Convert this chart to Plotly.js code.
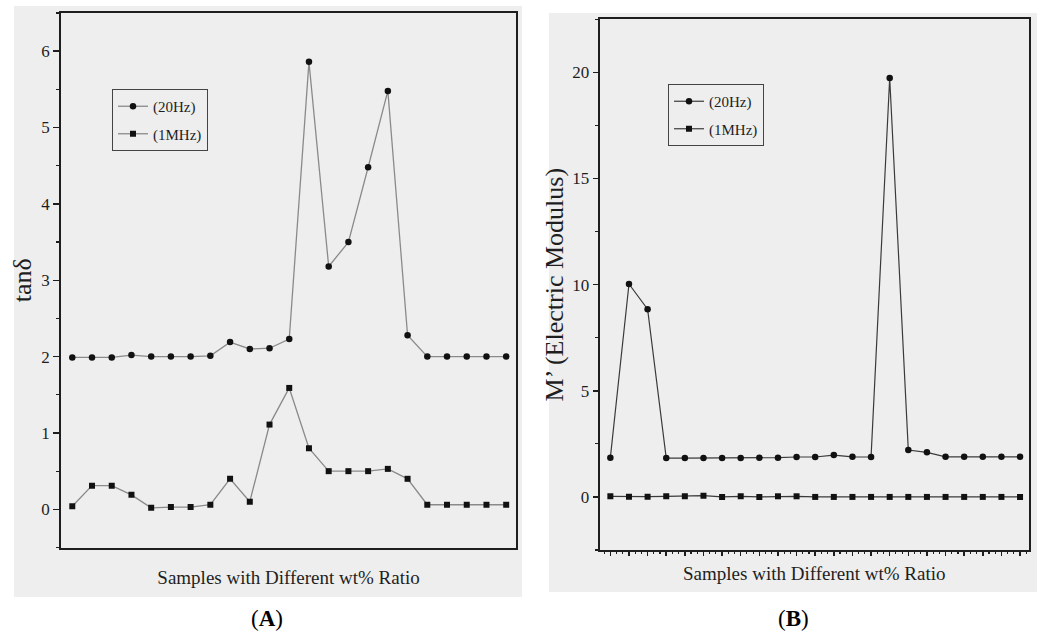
<!DOCTYPE html>
<html>
<head>
<meta charset="utf-8">
<script src="https://cdn.plot.ly/plotly-3.0.1.min.js"></script>
<style>
html,body{margin:0;padding:0;background:#ffffff;}
#chart{width:1040px;height:634px;}
</style>
</head>
<body>
<div id="chart"></div>
<script>
// ---- data ----
const samples = [1,2,3,4,5,6,7,8,9,10,11,12,13,14,15,16,17,18,19,20,21,22,23];
const tanD20Hz = [1.99,1.99,1.99,2.02,2.00,2.00,2.00,2.01,2.19,2.10,2.11,2.23,5.86,3.18,3.50,4.48,5.48,2.28,2.00,2.00,2.00,2.00,2.00];
const tanD1MHz = [0.04,0.31,0.31,0.19,0.02,0.03,0.03,0.06,0.40,0.10,1.11,1.59,0.80,0.50,0.50,0.50,0.53,0.40,0.06,0.06,0.06,0.06,0.06];
const modulus20Hz = [1.85,10.03,8.84,1.83,1.83,1.83,1.83,1.83,1.85,1.85,1.88,1.88,1.97,1.89,1.88,19.73,2.21,2.10,1.89,1.89,1.89,1.89,1.89];
const modulus1MHz = [0.03,0.01,0.01,0.03,0.03,0.06,0.00,0.03,0.00,0.03,0.03,0.00,0.00,0.00,0.00,0.00,0.00,0.00,0.00,0.00,0.00,0.00,0.00];
const seriesNames = ['(20Hz)','(1MHz)'];
const xTitle = 'Samples with Different wt% Ratio';
const yTitleA = 'tanδ';
const yTitleB = 'M’ (Electric Modulus)';
const panelLabels = ['(<b>A</b>)','(<b>B</b>)'];

const FONT = "'Liberation Serif', 'Times New Roman', serif";
const INK = '#1e1e1e';
const PANEL = '#eeeeee';

const traces = [
  {x: samples, y: tanD20Hz, name: seriesNames[0], type: 'scatter', mode: 'lines+markers',
   xaxis: 'x', yaxis: 'y', legend: 'legend', legendgroup: 'a1',
   line: {color: '#8a8a8a', width: 1.3}, marker: {symbol: 'circle', size: 6.5, color: '#111'}},
  {x: samples, y: tanD1MHz, name: seriesNames[1], type: 'scatter', mode: 'lines+markers',
   xaxis: 'x', yaxis: 'y', legend: 'legend', legendgroup: 'a2',
   line: {color: '#8a8a8a', width: 1.3}, marker: {symbol: 'square', size: 6, color: '#111'}},
  {x: samples, y: modulus20Hz, name: seriesNames[0], type: 'scatter', mode: 'lines+markers',
   xaxis: 'x2', yaxis: 'y2', legend: 'legend2', legendgroup: 'b1',
   line: {color: '#3a3a3a', width: 1.2}, marker: {symbol: 'circle', size: 6.5, color: '#111'}},
  {x: samples, y: modulus1MHz, name: seriesNames[1], type: 'scatter', mode: 'lines+markers',
   xaxis: 'x2', yaxis: 'y2', legend: 'legend2', legendgroup: 'b2',
   line: {color: '#3a3a3a', width: 1.2}, marker: {symbol: 'square', size: 6, color: '#111'}}
];

function frame(extra) {
  return Object.assign({
    showgrid: false, zeroline: false, showline: true, mirror: true,
    linecolor: INK, linewidth: 2, tickcolor: INK, tickwidth: 1.5,
    tickfont: {family: FONT, size: 17, color: INK}
  }, extra);
}

const legendStyle = (x, y) => ({
  x: x, y: y, xanchor: 'left', yanchor: 'top', xref: 'paper', yref: 'paper',
  bgcolor: 'rgba(0,0,0,0)', bordercolor: '#444', borderwidth: 1,
  font: {family: FONT, size: 15, color: INK},
  traceorder: 'grouped', tracegroupgap: 5, itemwidth: 30
});

const layout = {
  width: 1040, height: 634,
  margin: {l: 0, r: 0, t: 0, b: 0},
  paper_bgcolor: '#ffffff', plot_bgcolor: PANEL,
  showlegend: true,
  font: {family: FONT, color: INK},
  xaxis: frame({domain: [0.0587, 0.4962], range: [0.43, 23.5], anchor: 'y',
    ticks: '', showticklabels: false,
    title: {text: xTitle, font: {family: FONT, size: 19, color: INK}, standoff: 22}}),
  yaxis: frame({domain: [0.1364, 0.9795], range: [-0.5, 6.5], anchor: 'x',
    tick0: 0, dtick: 1, ticks: 'outside', ticklen: 6,
    minor: {dtick: 0.5, tick0: 0, ticks: 'outside', ticklen: 3.5, tickwidth: 1.2, tickcolor: INK},
    title: {text: yTitleA, font: {family: FONT, size: 26, color: INK}, standoff: 2}}),
  xaxis2: frame({domain: [0.5765, 0.9894], range: [0.42, 23.48], anchor: 'y2',
    tick0: 1, dtick: 1, ticks: 'outside', ticklen: 4, showticklabels: false,
    minor: {dtick: 1/3, tick0: 1, ticks: 'outside', ticklen: 2.5, tickwidth: 1.1, tickcolor: INK},
    title: {text: xTitle, font: {family: FONT, size: 19, color: INK}, standoff: 12}}),
  yaxis2: frame({domain: [0.1325, 0.9696], range: [-2.5, 22.5], anchor: 'x2',
    tick0: 0, dtick: 5, ticks: 'outside', ticklen: 5,
    minor: {dtick: 2.5, tick0: 0, ticks: 'outside', ticklen: 3, tickwidth: 1.2, tickcolor: INK},
    title: {text: yTitleB, font: {family: FONT, size: 26, color: INK}, standoff: 1}}),
  legend: legendStyle(112/1040, 1 - 89/634),
  legend2: legendStyle(668/1040, 1 - 84/634),
  shapes: [
    {type: 'rect', xref: 'paper', yref: 'paper', layer: 'below',
     x0: 14/1040, x1: 522/1040, y0: 1 - 597/634, y1: 1 - 6/634,
     fillcolor: PANEL, line: {width: 0}},
    {type: 'rect', xref: 'paper', yref: 'paper', layer: 'below',
     x0: 549/1040, x1: 1037/1040, y0: 1 - 592/634, y1: 1 - 13/634,
     fillcolor: PANEL, line: {width: 0}}
  ],
  annotations: [
    {text: panelLabels[0], xref: 'paper', yref: 'paper', x: 267/1040, y: 1 - 618/634,
     xanchor: 'center', yanchor: 'middle', showarrow: false,
     font: {family: FONT, size: 23, color: '#000'}},
    {text: panelLabels[1], xref: 'paper', yref: 'paper', x: 793/1040, y: 1 - 618/634,
     xanchor: 'center', yanchor: 'middle', showarrow: false,
     font: {family: FONT, size: 23, color: '#000'}}
  ]
};

Plotly.newPlot('chart', traces, layout, {displayModeBar: false, staticPlot: true});
</script>
</body>
</html>
